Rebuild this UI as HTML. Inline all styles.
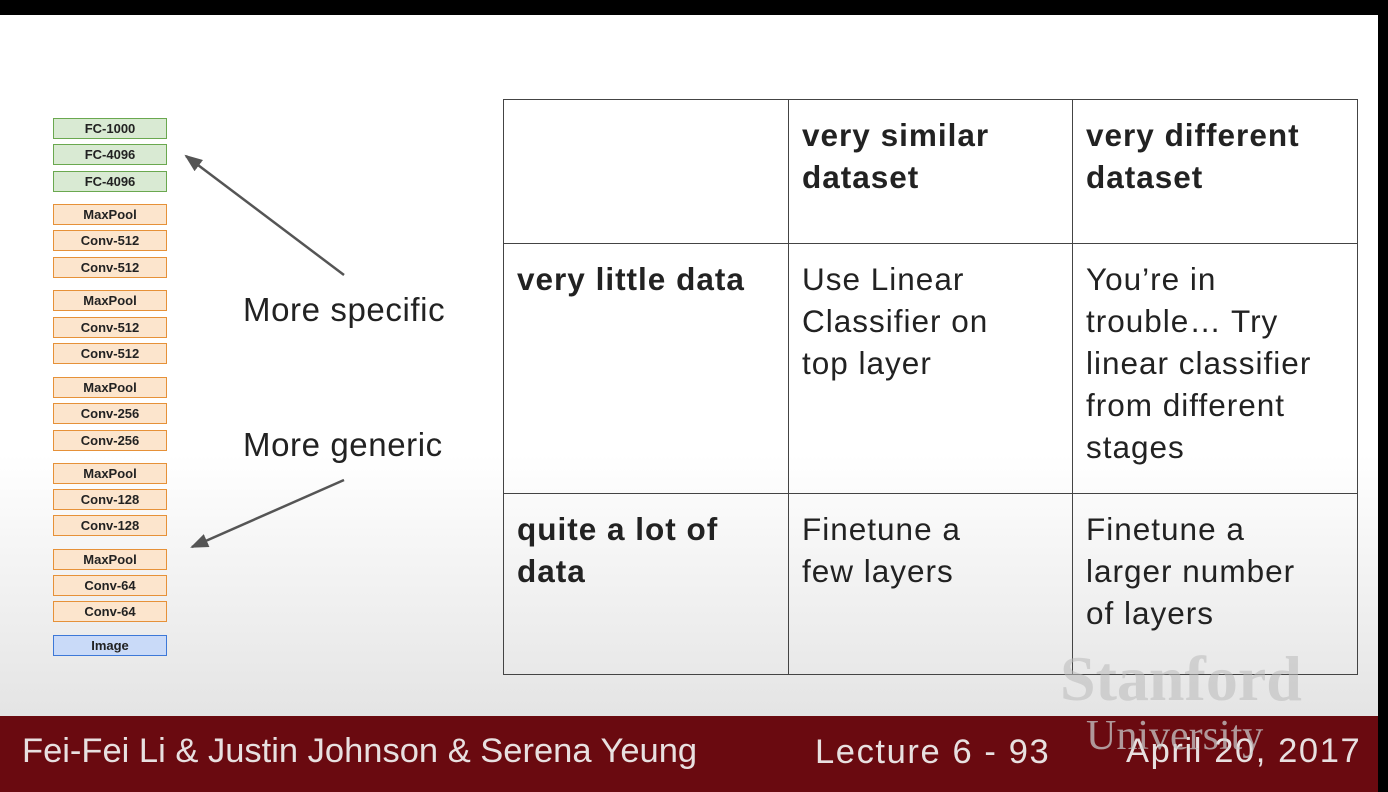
<!DOCTYPE html>
<html><head><style>
body{margin:0;width:1388px;height:792px;overflow:hidden;background:#000;font-family:"Liberation Sans",sans-serif;position:relative}
#slide{position:absolute;left:0;top:15px;width:1378px;height:701px;background:linear-gradient(#fff 0,#fff 440px,#e4e4e4 701px)}
.b{position:absolute;left:53px;width:112px;height:19px;border:1.5px solid;font-size:13px;font-weight:bold;text-align:center;line-height:19px;color:#222}
.g{background:#d9ead3;border-color:#6aa84f}
.o{background:#fce5cd;border-color:#e69138}
.bl{background:#c9daf8;border-color:#3c78d8}
table{position:absolute;left:503px;top:99px;border-collapse:collapse}
td{border:1.5px solid #444;vertical-align:top;padding:14px 13px;font-size:31.5px;line-height:42px;color:#222;box-sizing:border-box;white-space:nowrap;letter-spacing:1px}
.lbl{position:absolute;font-size:33px;color:#222;letter-spacing:0.6px}
#foot{position:absolute;left:0;top:716px;width:1378px;height:76px;background:#6a0a10;color:#e8e0e0;font-size:34.5px}
</style></head><body>
<div id="slide"></div>
<div class="b g" style="top:118px">FC-1000</div>
<div class="b g" style="top:144px">FC-4096</div>
<div class="b g" style="top:171px">FC-4096</div>
<div class="b o" style="top:204px">MaxPool</div>
<div class="b o" style="top:230px">Conv-512</div>
<div class="b o" style="top:257px">Conv-512</div>
<div class="b o" style="top:290px">MaxPool</div>
<div class="b o" style="top:317px">Conv-512</div>
<div class="b o" style="top:343px">Conv-512</div>
<div class="b o" style="top:377px">MaxPool</div>
<div class="b o" style="top:403px">Conv-256</div>
<div class="b o" style="top:430px">Conv-256</div>
<div class="b o" style="top:463px">MaxPool</div>
<div class="b o" style="top:489px">Conv-128</div>
<div class="b o" style="top:515px">Conv-128</div>
<div class="b o" style="top:549px">MaxPool</div>
<div class="b o" style="top:575px">Conv-64</div>
<div class="b o" style="top:601px">Conv-64</div>
<div class="b bl" style="top:635px">Image</div>
<svg style="position:absolute;left:0;top:0" width="1388" height="792">
<defs><marker id="a" markerWidth="18" markerHeight="14" refX="16" refY="7" orient="auto" markerUnits="userSpaceOnUse"><path d="M0,0L18,7L0,14z" fill="#555"/></marker></defs>
<line x1="344" y1="275" x2="186" y2="156" stroke="#555" stroke-width="2.5" marker-end="url(#a)"/>
<line x1="344" y1="480" x2="192" y2="547" stroke="#555" stroke-width="2.5" marker-end="url(#a)"/>
</svg>
<div class="lbl" style="left:243px;top:291px">More specific</div>
<div class="lbl" style="left:243px;top:426px">More generic</div>
<table>
<tr style="height:144px"><td style="width:285px"></td><td style="width:284px"><b>very similar<br>dataset</b></td><td style="width:285px"><b>very different<br>dataset</b></td></tr>
<tr style="height:250px"><td><b>very little data</b></td><td>Use Linear<br>Classifier on<br>top layer</td><td>You’re in<br>trouble… Try<br>linear classifier<br>from different<br>stages</td></tr>
<tr style="height:181px"><td><b>quite a lot of<br>data</b></td><td>Finetune a<br>few layers</td><td>Finetune a<br>larger number<br>of layers</td></tr>
</table>
<div style="position:absolute;left:1060px;top:642px;font-family:'Liberation Serif',serif;font-size:64px;font-weight:bold;color:rgba(185,185,185,0.55)">Stanford</div>
<div id="foot">
<div style="position:absolute;left:22px;top:16px">Fei-Fei Li &amp; Justin Johnson &amp; Serena Yeung</div>
<div style="position:absolute;left:815px;top:17px;letter-spacing:1.6px">Lecture 6 - 93</div>
<div style="position:absolute;left:1126px;top:16px;letter-spacing:1.6px">April 20, 2017</div>
<div style="position:absolute;left:1086px;top:-4px;font-family:'Liberation Serif',serif;font-size:42px;color:rgba(200,200,200,0.75)">University</div>
</div>
</body></html>
